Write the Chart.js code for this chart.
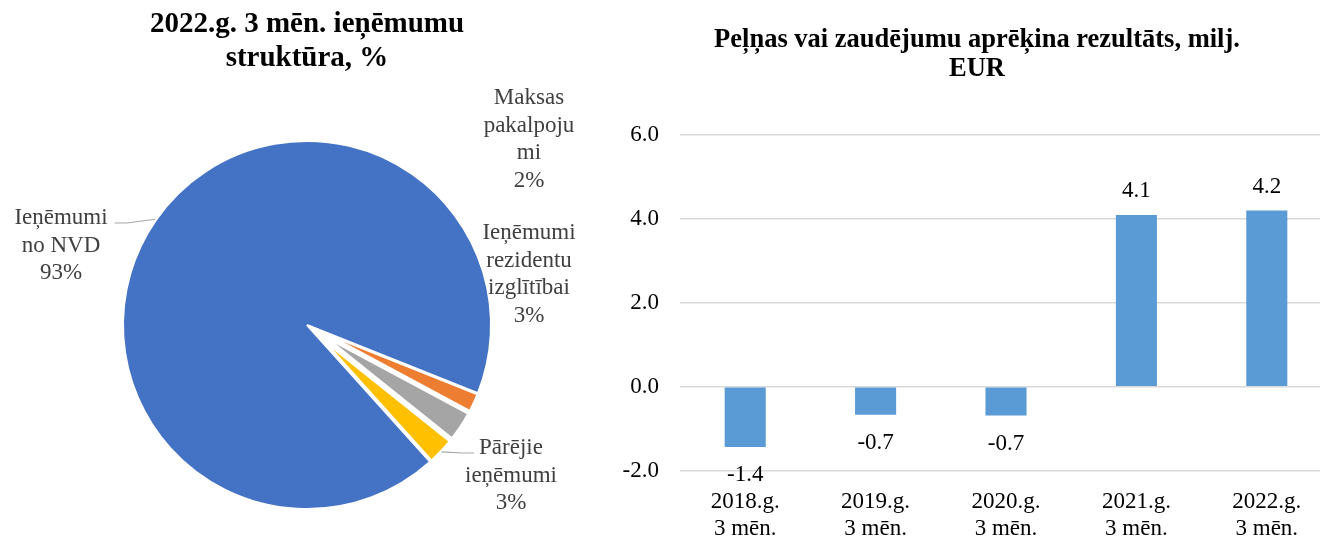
<!DOCTYPE html>
<html lang="lv">
<head>
<meta charset="UTF-8">
<title>Ieņēmumu struktūra un rezultāts</title>
<script src="https://cdn.jsdelivr.net/npm/chart.js@4"></script>
<style>
    html, body {
        margin: 0;
        padding: 0;
        background: #fff;
        width: 1320px;
        height: 536px;
        overflow: hidden;
    }
    .pie-box { position: absolute; left: 0; top: 0; width: 614px; height: 600px; }
    .bar-box { position: absolute; left: 600px; top: 0; width: 740px; height: 536px; }
</style>
</head>
<body>
<div class="pie-box"><canvas id="pieChart"></canvas></div>
<div class="bar-box"><canvas id="barChart"></canvas></div>

<script>
// --- data ---
const pieTitle = ['2022.g. 3 mēn. ieņēmumu', 'struktūra, %'];
const pieLabels = [
    ['Ieņēmumi', 'no NVD'],
    ['Maksas', 'pakalpoju', 'mi'],
    ['Ieņēmumi', 'rezidentu', 'izglītībai'],
    ['Pārējie', 'ieņēmumi']
];
const pieValues = [92.7, 1.8, 2.9, 2.6];
const pieColors = ['#4472c4', '#ed7d31', '#a5a5a5', '#ffc000'];

const barTitle = ['Peļņas vai zaudējumu aprēķina rezultāts, milj.', 'EUR'];
const barLabels = [
    ['2018.g.', '3 mēn.'],
    ['2019.g.', '3 mēn.'],
    ['2020.g.', '3 mēn.'],
    ['2021.g.', '3 mēn.'],
    ['2022.g.', '3 mēn.']
];
const barValues = [-1.44, -0.67, -0.69, 4.09, 4.2];
const yTicks = [-2, 0, 2, 4, 6];

const serif = "'Liberation Serif', 'Times New Roman', serif";
Chart.defaults.font.family = serif;
Chart.defaults.font.size = 23;
Chart.defaults.color = '#000';

// pull the small slices out a bit, like the exploded points in the original
const explode = [0, 23, 23, 23];
const pieExplode = {
    id: 'pieExplode',
    beforeDatasetsDraw(chart) {
        const arcs = chart.getDatasetMeta(0).data;
        const cx = arcs[0].x, cy = arcs[0].y, R = arcs[0].outerRadius;
        arcs.forEach((arc, i) => {
            if (!explode[i]) return;
            const mid = (arc.startAngle + arc.endAngle) / 2;
            arc.x = cx + Math.cos(mid) * explode[i];
            arc.y = cy + Math.sin(mid) * explode[i];
            arc.outerRadius = R - explode[i];
        });
    }
};

// label blocks, placed relative to the pie centre (first line centre)
const pieLabelLayout = [
    { dx: -246, dy: -107, leader: 'right' },
    { dx: 222, dy: -227 },
    { dx: 222, dy: -92 },
    { dx: 204, dy: 123, leader: 'left' }
];
const pieLabelsPlugin = {
    id: 'pieLabels',
    afterDatasetsDraw(chart) {
        const ctx = chart.ctx;
        const arcs = chart.getDatasetMeta(0).data;
        const cx = arcs[0].x, cy = arcs[0].y;
        const total = pieValues.reduce((a, b) => a + b, 0);
        const lh = 27.5;
        ctx.save();
        ctx.font = '23px ' + serif;
        ctx.textAlign = 'center';
        ctx.textBaseline = 'middle';
        arcs.forEach((arc, i) => {
            const lay = pieLabelLayout[i];
            const x = cx + lay.dx, y0 = cy + lay.dy;
            const lines = pieLabels[i].concat([Math.round(pieValues[i] / total * 100) + '%']);
            ctx.fillStyle = '#404040';
            lines.forEach((t, k) => ctx.fillText(t, x, y0 + k * lh));

            if (lay.leader) {
                const mid = (arc.startAngle + arc.endAngle) / 2;
                const ex = arc.x + Math.cos(mid) * (arc.outerRadius + 1);
                const ey = arc.y + Math.sin(mid) * (arc.outerRadius + 1);
                const w = ctx.measureText(lines[0]).width;
                const ly = y0 + 5;
                let sx, kx;
                if (lay.leader === 'right') {
                    sx = x + w / 2 + 7; kx = sx + 12;
                } else {
                    sx = x - w / 2 - 5; kx = sx - 12;
                }
                ctx.strokeStyle = '#a6a6a6';
                ctx.lineWidth = 1.2;
                ctx.beginPath();
                ctx.moveTo(sx, ly);
                ctx.lineTo(kx, ly);
                ctx.lineTo(ex, ey);
                ctx.stroke();
            }
        });
        ctx.restore();
    }
};

new Chart(document.getElementById('pieChart'), {
    type: 'pie',
    data: {
        labels: pieLabels.map(l => l.join(' ')),
        datasets: [{
            data: pieValues,
            backgroundColor: pieColors,
            borderColor: '#fff',
            borderWidth: 2
        }]
    },
    options: {
        responsive: true,
        maintainAspectRatio: false,
        animation: false,
        rotation: 138,
        radius: 184,
        layout: { padding: { bottom: 25.9 } },
        plugins: {
            legend: { display: false },
            tooltip: { enabled: false },
            title: {
                display: true,
                text: pieTitle,
                color: '#000',
                font: { family: serif, size: 29, weight: 'bold', lineHeight: 1.17 },
                padding: { top: 8, bottom: 0 }
            }
        }
    },
    plugins: [pieExplode, pieLabelsPlugin]
});

// value labels above / below the bars
const barValueLabels = {
    id: 'barValueLabels',
    afterDatasetsDraw(chart) {
        const ctx = chart.ctx;
        const bars = chart.getDatasetMeta(0).data;
        ctx.save();
        ctx.font = '23px ' + serif;
        ctx.fillStyle = '#000';
        ctx.textAlign = 'center';
        ctx.textBaseline = 'middle';
        bars.forEach((bar, i) => {
            const v = barValues[i];
            const y = v >= 0 ? bar.y - 24 : bar.y + 28;
            ctx.fillText(v.toFixed(1), bar.x, y);
        });
        ctx.restore();
    }
};

new Chart(document.getElementById('barChart'), {
    type: 'bar',
    data: {
        labels: barLabels,
        datasets: [{
            data: barValues,
            backgroundColor: '#5b9bd5',
            categoryPercentage: 1,
            barPercentage: 0.315
        }]
    },
    options: {
        responsive: true,
        maintainAspectRatio: false,
        animation: false,
        layout: { padding: { left: 22, right: 8, top: 0, bottom: 0 } },
        plugins: {
            legend: { display: false },
            tooltip: { enabled: false },
            title: {
                display: true,
                text: barTitle,
                color: '#000',
                font: { family: serif, size: 26.5, weight: 'bold', lineHeight: 1.1 },
                padding: { top: 25.4, bottom: 51.3 }
            }
        },
        scales: {
            x: {
                grid: { display: false },
                border: { display: false },
                ticks: {
                    color: '#000',
                    font: { family: serif, size: 23, lineHeight: 1.17 },
                    padding: 10,
                    maxRotation: 0,
                    autoSkip: false
                },
                afterFit(axis) { axis.height = 65.5; }
            },
            y: {
                min: yTicks[0],
                max: yTicks[yTicks.length - 1],
                border: { display: false },
                grid: { color: '#d9d9d9', lineWidth: 1.5, drawTicks: false },
                ticks: {
                    stepSize: yTicks[1] - yTicks[0],
                    color: '#000',
                    font: { family: serif, size: 23 },
                    padding: 21,
                    callback: v => v.toFixed(1)
                },
                afterFit(axis) { axis.width = 58; }
            }
        }
    },
    plugins: [barValueLabels]
});
</script>
</body>
</html>
